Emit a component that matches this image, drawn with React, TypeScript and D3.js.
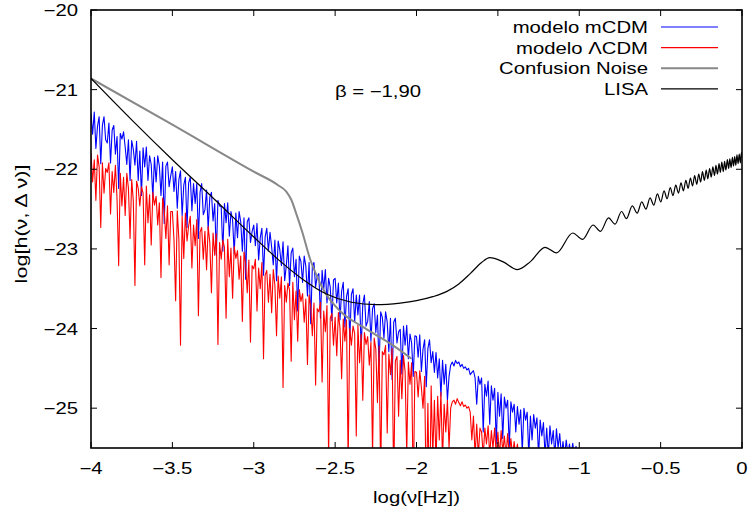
import React from "react";
import * as d3 from "d3";

const W = 751;
const H = 517;

// x grid of the two noise series: log(nu) from -4 in steps of 0.01
const noiseX0 = -4;
const noiseStep = 0.01;

const blueValues = [
  -21.30, -21.56, -21.28, -21.74, -21.46, -21.34, -21.93, -21.45, -21.34, -21.63,
  -21.67, -21.42, -21.92, -21.51, -21.45, -21.81, -21.59, -22.24, -21.55, -21.62,
  -21.53, -21.72, -21.94, -21.63, -22.14, -21.64, -21.75, -21.95, -21.65, -22.14,
  -21.77, -22.33, -21.73, -21.97, -21.72, -22.14, -21.83, -21.94, -22.36, -21.85,
  -22.16, -21.83, -21.96, -22.33, -21.91, -22.68, -21.96, -21.91, -22.22, -22.08,
  -21.97, -22.28, -22.03, -22.49, -22.13, -22.02, -22.58, -22.20, -22.10, -22.73,
  -22.17, -22.10, -22.52, -22.18, -22.43, -22.18, -22.87, -22.29, -22.18, -22.57,
  -22.51, -22.26, -22.76, -22.35, -22.29, -22.65, -22.43, -23.08, -22.39, -22.46,
  -22.47, -23.03, -22.43, -22.67, -22.42, -22.84, -22.53, -22.64, -23.06, -22.55,
  -22.86, -22.53, -22.66, -23.03, -22.61, -23.38, -22.66, -22.61, -22.92, -22.78,
  -22.70, -22.96, -22.68, -23.14, -22.86, -22.74, -23.33, -22.85, -22.74, -23.03,
  -22.79, -22.98, -23.20, -22.89, -23.40, -22.90, -23.01, -23.21, -22.91, -23.40,
  -23.21, -22.96, -23.46, -23.05, -22.99, -23.35, -23.13, -23.78, -23.09, -23.16,
  -23.42, -23.09, -23.22, -23.59, -23.17, -23.94, -23.22, -23.17, -23.48, -23.34,
  -23.31, -23.87, -23.27, -23.51, -23.26, -23.68, -23.37, -23.48, -23.90, -23.39,
  -23.37, -23.68, -23.43, -23.89, -23.53, -23.42, -23.98, -23.60, -23.50, -24.13,
  -23.57, -23.50, -23.92, -23.58, -23.83, -23.58, -24.27, -23.69, -23.58, -23.97,
  -23.91, -23.66, -24.16, -23.75, -23.69, -24.05, -23.83, -24.48, -23.79, -23.86,
  -24.12, -23.79, -23.92, -24.29, -23.87, -24.64, -23.92, -23.87, -24.18, -24.04,
  -24.01, -24.57, -23.97, -24.21, -23.96, -24.38, -24.07, -24.18, -24.60, -24.09,
  -24.10, -24.36, -24.08, -24.54, -24.26, -24.14, -24.73, -24.25, -24.14, -24.43,
  -24.29, -24.55, -24.30, -24.62, -24.38, -24.85, -24.40, -24.70, -24.45, -24.90,
  -24.60, -24.46, -24.42, -24.47, -24.40, -24.44, -24.42, -24.48, -24.45, -24.50,
  -24.48, -24.52, -24.50, -24.58, -24.55, -24.53, -24.62, -24.95, -24.60, -24.70,
  -24.62, -25.30, -24.70, -24.85, -24.66, -25.20, -24.72, -24.90, -24.75, -25.45,
  -24.80, -25.10, -24.82, -25.38, -24.86, -25.00, -24.90, -25.50, -24.92, -25.05,
  -24.95, -25.30, -24.98, -25.20, -25.02, -25.55, -25.00, -25.15, -25.05, -25.60,
  -25.10, -25.40, -25.08, -25.25, -25.12, -25.60, -25.15, -25.35, -25.18, -25.60,
  -25.25, -25.60, -25.22, -25.45, -25.28, -25.60, -25.26, -25.50, -25.32, -25.60,
  -25.42, -25.60, -25.40, -25.58, -25.45, -25.60, -25.44, -25.60, -25.48, -25.60,
  -25.60,
];

const redValues = [
  -21.80, -22.16, -21.88, -22.39, -21.82, -21.97, -22.73, -21.92, -22.30, -21.99,
  -22.04, -21.92, -22.56, -22.03, -22.29, -21.95, -22.37, -23.21, -22.05, -22.46,
  -22.10, -22.58, -22.05, -22.24, -22.87, -22.13, -22.40, -23.46, -22.15, -22.24,
  -22.46, -22.22, -22.30, -23.20, -22.21, -22.67, -22.32, -22.95, -22.29, -22.45,
  -22.34, -22.70, -22.42, -23.36, -22.36, -22.51, -22.87, -22.46, -23.20, -22.53,
  -22.53, -22.89, -23.65, -22.52, -22.88, -24.21, -22.59, -23.12, -22.55, -22.90,
  -22.71, -22.59, -23.24, -22.70, -22.96, -22.63, -23.84, -22.79, -22.73, -23.13,
  -22.78, -23.26, -22.72, -22.92, -23.55, -22.80, -23.08, -22.81, -24.20, -22.92,
  -23.13, -22.89, -22.98, -23.87, -22.88, -23.35, -22.99, -23.62, -22.97, -23.12,
  -23.02, -23.38, -23.09, -23.91, -23.04, -23.18, -23.55, -23.14, -24.17, -23.21,
  -23.25, -23.13, -23.78, -23.24, -23.50, -23.17, -24.38, -23.33, -23.27, -23.67,
  -23.32, -23.80, -23.26, -23.46, -24.09, -23.34, -23.62, -23.35, -24.74, -23.46,
  -23.67, -23.43, -23.52, -24.41, -23.42, -23.89, -23.53, -24.16, -23.51, -23.66,
  -23.56, -23.92, -23.63, -24.45, -23.58, -23.72, -24.09, -23.68, -24.71, -23.75,
  -23.79, -23.67, -24.67, -23.78, -24.04, -23.71, -25.62, -23.87, -23.81, -24.21,
  -23.86, -24.34, -23.80, -24.00, -24.63, -23.88, -24.16, -23.89, -25.68, -24.00,
  -24.21, -23.97, -24.06, -25.35, -23.96, -24.43, -24.07, -24.90, -24.05, -24.20,
  -24.10, -24.46, -24.17, -25.59, -24.12, -24.26, -24.93, -24.22, -25.85, -24.29,
  -24.33, -24.21, -25.31, -24.32, -24.58, -24.25, -25.96, -24.41, -24.35, -25.10,
  -24.40, -24.88, -24.34, -24.54, -25.57, -24.42, -24.70, -24.43, -26.12, -24.54,
  -24.55, -24.86, -24.53, -24.74, -25.00, -24.60, -26.23, -24.94, -26.36, -24.72,
  -25.60, -24.90, -25.70, -24.85, -25.40, -24.80, -25.65, -24.95, -25.30, -24.90,
  -25.50, -25.00, -24.92, -24.90, -24.95, -24.88, -24.93, -24.97, -24.92, -24.98,
  -24.96, -25.00, -24.98, -25.05, -25.40, -25.10, -25.60, -25.20, -25.60, -25.25,
  -25.30, -25.60, -25.25, -25.45, -25.22, -25.60, -25.28, -25.50, -25.25, -25.60,
  -25.30, -25.60, -25.28, -25.55, -25.35, -25.60, -25.32, -25.60, -25.38, -25.60,
  -25.42, -25.60, -25.45, -25.65, -25.70,
];

// Confusion noise: [log nu, log h]
const confusionPts: [number, number][] = [
  [-4.0, -20.86], [-3.5, -21.44], [-3.0, -22.03], [-2.85, -22.2], [-2.8, -22.28],
  [-2.77, -22.38], [-2.74, -22.55], [-2.7, -22.8], [-2.655, -23.12], [-2.61, -23.35],
  [-2.57, -23.52], [-2.47, -23.78], [-2.33, -23.98], [-2.16, -24.19], [-2.03, -24.38],
];

// LISA sensitivity: [log nu, log h]
const lisaPts: [number, number][] = [
  [-4.0, -20.86], [-3.75, -21.38], [-3.5, -21.88], [-3.25, -22.36], [-3.0, -22.85],
  [-2.84, -23.15], [-2.7, -23.38], [-2.55, -23.57], [-2.4, -23.67], [-2.25, -23.7],
  [-2.1, -23.68], [-2.0, -23.65], [-1.9, -23.6], [-1.81, -23.53], [-1.74, -23.44],
  [-1.67, -23.31], [-1.6, -23.17], [-1.55, -23.11], [-1.47, -23.16], [-1.38, -23.26],
  [-1.3, -23.16], [-1.21, -22.98], [-1.14, -23.05], [-1.04, -22.8], [-0.98, -22.88],
  [-0.915, -22.7], [-0.87, -22.78], [-0.82, -22.61], [-0.78, -22.69], [-0.74, -22.53],
  [-0.71, -22.62], [-0.674, -22.46], [-0.644, -22.55], [-0.616, -22.41], [-0.59, -22.5],
  [-0.565, -22.36], [-0.542, -22.45], [-0.52, -22.31], [-0.499, -22.41], [-0.479, -22.27],
  [-0.46, -22.37], [-0.441, -22.23], [-0.424, -22.33], [-0.407, -22.2], [-0.39, -22.3],
  [-0.375, -22.17], [-0.36, -22.27], [-0.345, -22.14], [-0.331, -22.24], [-0.317, -22.11],
  [-0.304, -22.21], [-0.291, -22.08], [-0.278, -22.19], [-0.266, -22.06], [-0.254, -22.16],
  [-0.243, -22.03], [-0.231, -22.14], [-0.22, -22.01], [-0.21, -22.12], [-0.199, -21.99],
  [-0.189, -22.1], [-0.179, -21.97], [-0.169, -22.08], [-0.16, -21.95], [-0.151, -22.06],
  [-0.141, -21.93], [-0.133, -22.04], [-0.124, -21.91], [-0.115, -22.03], [-0.107, -21.9],
  [-0.099, -22.01], [-0.09, -21.88], [-0.082, -21.99], [-0.075, -21.87], [-0.067, -21.98],
  [-0.059, -21.85], [-0.052, -21.96], [-0.045, -21.84], [-0.038, -21.95], [-0.031, -21.82],
  [-0.024, -21.93], [-0.017, -21.81], [-0.01, -21.92], [-0.0035, -21.79], [0.0, -21.85],
];

const xTicks = [-4, -3.5, -3, -2.5, -2, -1.5, -1, -0.5, 0];
const yTicks = [-25, -24, -23, -22, -21, -20];

const legendLabels = ["modelo mCDM", "modelo \u039BCDM", "Confusion Noise", "LISA"];
const legendColors = ["#0000ff", "#ff0000", "#888888", "#000000"];

const annotation = "\u03B2 = \u22121,90";
const xTitle = "log(\u03BD[Hz])";
const yTitle = "log[h(\u03BD, \u0394 \u03BD)]";

const fmt = (v: number) => (v < 0 ? "\u2212" + String(Math.abs(v)) : String(v));

// text stretched horizontally like the reference rendering
function SText(props: {
  x: number;
  y: number;
  anchor?: "start" | "middle" | "end";
  sx?: number;
  rotate?: number;
  children: React.ReactNode;
}) {
  const { x, y, anchor = "start", sx = 1.27, rotate = 0, children } = props;
  return (
    <text
      transform={`translate(${x},${y}) rotate(${rotate}) scale(${sx},1)`}
      textAnchor={anchor}
      fill="#000"
    >
      {children}
    </text>
  );
}

export default function App() {
  const left = 91, right = 742, top = 10, bottom = 448;
  const x = d3.scaleLinear().domain([-4, 0]).range([left, right]);
  const y = d3.scaleLinear().domain([-25.5, -20]).range([bottom, top]);

  const lineLin = d3.line<[number, number]>().x((d) => x(d[0])).y((d) => y(d[1]));
  const lineSmooth = d3
    .line<[number, number]>()
    .x((d) => x(d[0]))
    .y((d) => y(d[1]))
    .curve(d3.curveMonotoneX);

  const bluePts: [number, number][] = blueValues.map((v, i) => [noiseX0 + i * noiseStep, v]);
  const redPts: [number, number][] = redValues.map((v, i) => [noiseX0 + i * noiseStep, v]);

  const font = "'Liberation Sans', Arial, Helvetica, sans-serif";
  const tickLen = 6;

  return (
    <svg
      width={W}
      height={H}
      style={{ position: "absolute", left: 0, top: 0, background: "#fff" }}
      fontFamily={font}
      fontSize={16}
    >
      <rect x={0} y={0} width={W} height={H} fill="#fff" />
      <defs>
        <clipPath id="plotclip">
          <rect x={left} y={top} width={right - left} height={bottom - top} />
        </clipPath>
      </defs>
      <g clipPath="url(#plotclip)" fill="none">
        <path d={lineLin(bluePts) || ""} stroke="#0000ff" strokeWidth={1.1} strokeLinejoin="round" />
        <path d={lineLin(redPts) || ""} stroke="#ff0000" strokeWidth={1.1} strokeLinejoin="round" />
        <path d={lineSmooth(confusionPts) || ""} stroke="#888888" strokeWidth={2} />
        <path d={lineSmooth(lisaPts) || ""} stroke="#000000" strokeWidth={1.2} />
      </g>

      {/* ticks */}
      <g stroke="#000" strokeWidth={1}>
        {xTicks.map((t) => (
          <g key={"xt" + t}>
            <line x1={x(t)} x2={x(t)} y1={bottom} y2={bottom - tickLen} />
            <line x1={x(t)} x2={x(t)} y1={top} y2={top + tickLen} />
          </g>
        ))}
        {yTicks.map((t) => (
          <g key={"yt" + t}>
            <line x1={left} x2={left + tickLen} y1={y(t)} y2={y(t)} />
            <line x1={right} x2={right - tickLen} y1={y(t)} y2={y(t)} />
          </g>
        ))}
      </g>
      <rect
        x={left}
        y={top}
        width={right - left}
        height={bottom - top}
        fill="none"
        stroke="#000"
        strokeWidth={1.6}
      />

      {/* tick labels */}
      {xTicks.map((t) => (
        <SText key={"xl" + t} x={x(t)} y={474} anchor="middle">
          {fmt(t)}
        </SText>
      ))}
      {yTicks.map((t) => (
        <SText key={"yl" + t} x={78} y={y(t) + 6} anchor="end">
          {fmt(t)}
        </SText>
      ))}

      {/* axis titles */}
      <SText x={(left + right) / 2} y={503} anchor="middle">
        {xTitle}
      </SText>
      <SText x={27} y={224} anchor="middle" rotate={-90} sx={1.35}>
        {yTitle}
      </SText>

      {/* annotation */}
      <SText x={378} y={97} anchor="middle">
        {annotation}
      </SText>

      {/* legend */}
      {legendLabels.map((lab, i) => {
        const ly = 27 + i * 20.6;
        return (
          <g key={lab}>
            <SText x={648} y={ly + 6} anchor="end">
              {lab}
            </SText>
            <line
              x1={661}
              x2={718}
              y1={ly}
              y2={ly}
              stroke={legendColors[i]}
              strokeWidth={legendColors[i] === "#888888" ? 2 : 1.2}
            />
          </g>
        );
      })}
    </svg>
  );
}
